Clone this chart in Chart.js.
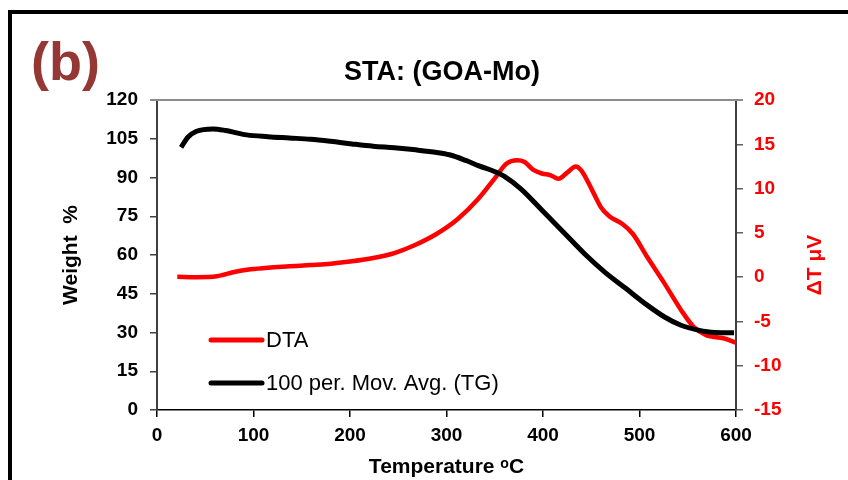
<!DOCTYPE html>
<html>
<head>
<meta charset="utf-8">
<script src="https://cdn.jsdelivr.net/npm/chart.js@4.4.1/dist/chart.umd.min.js"></script>
<style>
  body { margin: 0; background: #fff; }
  #wrap { width: 848px; height: 480px; }
</style>
</head>
<body>
<div id="wrap"><canvas id="chart-js" width="848" height="480"></canvas></div>
<script>
// TG curve (100 per. moving average), weight % vs temperature
const tgTemp   = [25, 32, 41, 58, 71, 93, 115, 137, 159, 180, 202, 224, 246, 268, 290, 303, 320, 333, 351, 360, 377, 399, 421, 443, 464, 486, 508, 526, 543, 561, 578, 598];
const tgWeight = [101.7, 105.6, 107.9, 108.8, 108.2, 106.5, 105.8, 105.3, 104.8, 104, 103, 102.1, 101.5, 100.7, 99.7, 98.8, 96.6, 94.6, 92.1, 90.4, 85.6, 77.3, 68.9, 60.5, 53.4, 47, 40.6, 36, 32.8, 30.9, 30, 29.9];

// DTA signal, delta T in microvolts
const dtaTemp   = [21, 41, 62, 80, 97, 115, 137, 159, 180, 202, 224, 246, 268, 290, 312, 333, 351, 362, 373, 381, 390, 399, 408, 416, 425, 434, 440, 451, 460, 469, 482, 493, 508, 526, 543, 556, 569, 587, 600];
const dtaSignal = [0.05, 0, 0.1, 0.58, 0.88, 1.07, 1.22, 1.37, 1.52, 1.79, 2.16, 2.72, 3.66, 4.9, 6.6, 8.85, 11.3, 12.8, 13.2, 13, 12.1, 11.7, 11.5, 11.1, 11.8, 12.5, 12, 9.8, 7.9, 6.85, 6.03, 4.9, 2.27, -0.73, -3.7, -5.6, -6.55, -6.9, -7.4];

const xTicks = { min: 0, max: 600, step: 100 };
const weightTicks = { min: 0, max: 120, step: 15 };
const dtaTicks = { min: -15, max: 20, step: 5 };

const FONT = "'Liberation Sans', Arial, sans-serif";
const dtaTitle = '\u0394T \u03BCV';

const framePlugin = {
  id: 'frame',
  beforeDraw(chart) {
    const ctx = chart.ctx;
    ctx.save();
    ctx.strokeStyle = '#000';
    ctx.lineWidth = 4;
    ctx.strokeRect(10, 12, 900, 600);
    ctx.fillStyle = '#953735';
    ctx.font = 'bold 54px ' + FONT;
    ctx.textBaseline = 'alphabetic';
    ctx.fillText('(b)', 31, 80);
    ctx.restore();
  },
  afterDraw(chart) {
    const ctx = chart.ctx;
    const a = chart.chartArea;
    ctx.save();
    // top line of the plot area
    ctx.strokeStyle = '#8c8c8c';
    ctx.lineWidth = 2;
    ctx.beginPath();
    ctx.moveTo(a.left - 7, a.top);
    ctx.lineTo(a.right + 7, a.top);
    ctx.stroke();

    // right axis title, reads bottom to top like the left one
    ctx.save();
    ctx.translate(815, 265);
    ctx.rotate(-Math.PI / 2);
    ctx.fillStyle = '#ff0000';
    ctx.font = 'bold 21px ' + FONT;
    ctx.textAlign = 'center';
    ctx.textBaseline = 'middle';
    ctx.fillText(dtaTitle, 0, 0);
    ctx.restore();

    // legend inside the plot
    const rows = [340, 383];
    chart.data.datasets.forEach((ds, i) => {
      const y = rows[i];
      ctx.strokeStyle = ds.borderColor;
      ctx.lineWidth = 5;
      ctx.lineCap = 'round';
      ctx.beginPath();
      ctx.moveTo(211, y);
      ctx.lineTo(262, y);
      ctx.stroke();
      ctx.fillStyle = '#000';
      ctx.font = '22px ' + FONT;
      ctx.textBaseline = 'middle';
      ctx.fillText(ds.label, 266, y + 1);
    });
    ctx.restore();
  }
};

const ctx = document.getElementById('chart-js').getContext('2d');

const myChart = new Chart(ctx, {
  type: 'line',
  data: {
    datasets: [
      {
        label: 'DTA',
        data: dtaTemp.map((t, i) => ({ x: t, y: dtaSignal[i] })),
        yAxisID: 'y1',
        borderColor: '#ff0000',
        borderWidth: 4.5,
        pointRadius: 0,
        cubicInterpolationMode: 'monotone',
        order: 2
      },
      {
        label: '100 per. Mov. Avg. (TG)',
        data: tgTemp.map((t, i) => ({ x: t, y: tgWeight[i] })),
        yAxisID: 'y',
        borderColor: '#000000',
        borderWidth: 5,
        pointRadius: 0,
        cubicInterpolationMode: 'monotone',
        order: 1
      }
    ]
  },
  options: {
    responsive: false,
    animation: false,
    layout: { padding: { left: 56, right: 20, top: 0, bottom: 0 } },
    plugins: {
      legend: { display: false },
      tooltip: { enabled: false },
      title: {
        display: true,
        text: 'STA: (GOA-Mo)',
        color: '#000',
        font: { family: FONT, size: 27, weight: 'bold' },
        padding: { top: 56, bottom: 11.6 }
      }
    },
    scales: {
      x: {
        type: 'linear',
        min: xTicks.min,
        max: xTicks.max,
        afterFit: (s) => { s.height = 70; },
        ticks: {
          stepSize: xTicks.step,
          color: '#000',
          padding: 7,
          maxRotation: 0,
          font: { family: FONT, size: 19, weight: 'bold' }
        },
        grid: { drawOnChartArea: false, tickLength: 7, color: '#000', lineWidth: 1.5 },
        border: { color: '#000', width: 1.5 },
        title: {
          display: true,
          text: 'Temperature \u1D52C',
          color: '#000',
          font: { family: FONT, size: 21, weight: 'bold' },
          padding: { top: 0, bottom: 0 }
        }
      },
      y: {
        position: 'left',
        min: weightTicks.min,
        max: weightTicks.max,
        afterFit: (s) => { s.width = 101; },
        ticks: {
          stepSize: weightTicks.step,
          color: '#000',
          padding: 12,
          font: { family: FONT, size: 19, weight: 'bold' }
        },
        grid: { drawOnChartArea: false, tickLength: 7, color: '#404040', lineWidth: 1.5 },
        border: { color: '#404040', width: 2 },
        title: {
          display: true,
          text: 'Weight  %',
          color: '#000',
          font: { family: FONT, size: 21, weight: 'bold' },
          padding: { top: 3, bottom: 0 }
        }
      },
      y1: {
        position: 'right',
        min: dtaTicks.min,
        max: dtaTicks.max,
        afterFit: (s) => { s.width = 92; },
        ticks: {
          stepSize: dtaTicks.step,
          color: '#ff0000',
          padding: 11,
          font: { family: FONT, size: 19, weight: 'bold' }
        },
        grid: { drawOnChartArea: false, tickLength: 7, color: '#606060', lineWidth: 1.5 },
        border: { color: '#404040', width: 2 },
        title: { display: false }
      }
    }
  },
  plugins: [framePlugin]
});
</script>
</body>
</html>
